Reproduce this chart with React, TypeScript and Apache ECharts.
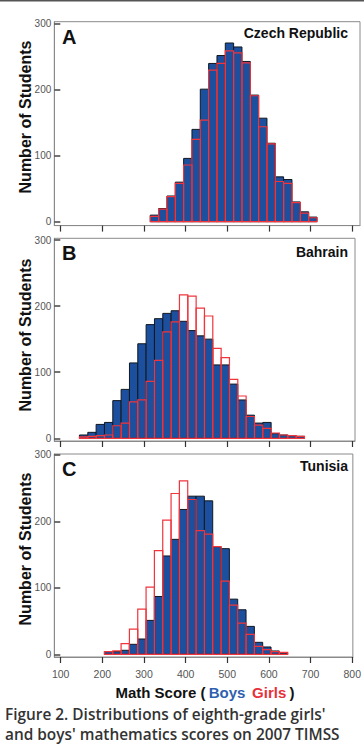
import React, { useEffect, useRef } from "react";
import * as echarts from "echarts";

// ---- data ----
const BIN_WIDTH = 20;
const xTicks = [100, 200, 300, 400, 500, 600, 700, 800];
const yTicks = [0, 100, 200, 300];

const czechBinStart = 315;
const czechBoys = [10, 20, 39, 60, 96, 140, 201, 240, 252, 271, 265, 243, 192, 157, 119, 68, 64, 30, 15, 7];
const czechGirls = [8, 19, 38, 58, 86, 125, 154, 230, 240, 259, 256, 241, 191, 144, 118, 61, 58, 29, 13, 6];

const bahrainBinStart = 145;
const bahrainBoys = [5, 9, 21, 24, 57, 74, 114, 143, 172, 181, 189, 193, 177, 163, 155, 150, 111, 111, 82, 58, 35, 23, 24, 7, 5, 4, 3];
const bahrainGirls = [2, 3, 4, 5, 19, 23, 55, 58, 86, 118, 161, 176, 217, 215, 197, 185, 136, 122, 89, 64, 33, 20, 15, 8, 5, 4, 3];

const tunisiaBinStart = 205;
const tunisiaBoys = [4, 4, 6, 15, 23, 51, 87, 148, 173, 218, 238, 238, 231, 162, 159, 83, 67, 42, 18, 11, 5, 2];
const tunisiaGirls = [4, 5, 16, 38, 68, 101, 156, 202, 242, 261, 233, 186, 181, 162, 110, 74, 47, 30, 12, 7, 4, 3];

const panelLetters = ["A", "B", "C"];
const countries = ["Czech Republic", "Bahrain", "Tunisia"];
const yAxisTitle = "Number of Students";
const captionLines = [
  "Figure 2. Distributions of eighth-grade girls'",
  "and boys' mathematics scores on 2007 TIMSS",
];

const BOYS_FILL = "#1c4f9e";
const BOYS_STROKE = "#101820";
const GIRLS_STROKE = "#f0353d";

function toBins(start: number, vals: number[]) {
  return vals.map((v, i) => [start + i * BIN_WIDTH, start + (i + 1) * BIN_WIDTH, v]);
}

export default function App() {
  const ref = useRef<HTMLDivElement>(null);
  useEffect(() => {
    if (!ref.current) return;
    const chart = echarts.init(ref.current, null, { renderer: "svg" });

    const panels = [
      { start: czechBinStart, boys: czechBoys, girls: czechGirls, top: 21.7, bottom: 225.6, right: 360, ymin: -5.9, ymax: 303.3 },
      { start: bahrainBinStart, boys: bahrainBoys, girls: bahrainGirls, top: 238.3, bottom: 441, right: 355, ymin: -4.1, ymax: 302.6 },
      { start: tunisiaBinStart, boys: tunisiaBoys, girls: tunisiaGirls, top: 454, bottom: 657, right: 353, ymin: -4.1, ymax: 301.5 },
    ];
    const LEFT = 54.3;
    const pxPerUnit = 0.4167;
    const xmin = 100 - (60.7 - LEFT) / pxPerUnit;

    const grids: any[] = [];
    const xAxes: any[] = [];
    const yAxes: any[] = [];
    const series: any[] = [];
    const graphics: any[] = [];

    const makeRender = (fill: string, stroke: string, lw: number) => (params: any, api: any) => {
      const x0 = api.value(0);
      const x1 = api.value(1);
      const y = api.value(2);
      const p0 = api.coord([x0, y]);
      const p1 = api.coord([x1, 0]);
      return {
        type: "rect",
        shape: { x: p0[0], y: p0[1], width: p1[0] - p0[0], height: p1[1] - p0[1] },
        style: { fill, stroke, lineWidth: lw },
      };
    };

    panels.forEach((p, i) => {
      grids.push({
        left: LEFT,
        top: p.top,
        width: p.right - LEFT,
        height: p.bottom - p.top,
        show: true,
        borderColor: "#8a8a8a",
        borderWidth: 1,
        backgroundColor: "transparent",
      });
      const xmax = 100 + (p.right - 60.7) / pxPerUnit;
      xAxes.push({
        type: "value",
        gridIndex: i,
        min: xmin,
        max: xmax,
        axisLine: { show: true, onZero: false, lineStyle: { color: "#8a8a8a" } },
        axisTick: { show: true, inside: false, length: 6, customValues: xTicks, lineStyle: { color: "#333", width: 1.2 } },
        axisLabel: {
          show: i === 2,
          customValues: xTicks,
          fontSize: 10.5,
          color: "#555",
          margin: 11,
          fontFamily: "Liberation Sans Narrow, Liberation Sans, Arial",
        },
        splitLine: { show: false },
      });
      yAxes.push({
        type: "value",
        gridIndex: i,
        min: p.ymin,
        max: p.ymax,
        axisLine: { show: true, lineStyle: { color: "#8a8a8a" } },
        axisTick: { show: true, inside: true, length: 6, customValues: yTicks, lineStyle: { color: "#444", width: 1.5 } },
        axisLabel: {
          customValues: yTicks,
          fontSize: 10,
          color: "#555",
          margin: 3,
          fontFamily: "Liberation Sans Narrow, Liberation Sans, Arial",
        },
        splitLine: { show: false },
      });
      series.push({
        type: "custom",
        xAxisIndex: i,
        yAxisIndex: i,
        renderItem: makeRender(BOYS_FILL, BOYS_STROKE, 1),
        encode: { x: [0, 1], y: 2 },
        data: toBins(p.start, p.boys),
        z: 2,
      });
      series.push({
        type: "custom",
        xAxisIndex: i,
        yAxisIndex: i,
        renderItem: makeRender("none", GIRLS_STROKE, 1.2),
        encode: { x: [0, 1], y: 2 },
        data: toBins(p.start, p.girls),
        z: 3,
      });
    });

    const letterY = [36.7, 253.3, 469];
    const countryY = [33.3, 251.7, 465.7];
    const ytitleY = [117, 335, 549];
    panels.forEach((p, i) => {
      graphics.push({
        type: "text",
        x: 62,
        y: letterY[i],
        style: {
          text: panelLetters[i],
          fontSize: 20,
          fontWeight: "bold",
          fontFamily: "Liberation Sans, Arial",
          fill: "#111",
          textAlign: "left",
          textVerticalAlign: "middle",
        },
        z: 10,
      });
      graphics.push({
        type: "text",
        x: 348,
        y: countryY[i],
        style: {
          text: countries[i],
          fontSize: 14,
          fontWeight: "bold",
          fontFamily: "Liberation Sans, Arial",
          fill: "#111",
          textAlign: "right",
          textVerticalAlign: "middle",
        },
        z: 10,
      });
      graphics.push({
        type: "text",
        x: 25.5,
        y: ytitleY[i],
        rotation: Math.PI / 2,
        style: {
          text: yAxisTitle,
          fontSize: 16,
          fontWeight: "bold",
          fontFamily: "Liberation Sans, Arial",
          fill: "#111",
          textAlign: "center",
          textVerticalAlign: "middle",
        },
        z: 10,
      });
    });

    graphics.push({
      type: "text",
      x: 205,
      y: 692,
      style: {
        text: "{k|Math Score (} {b|Boys}  {g|Girls} {k|)}",
        textAlign: "center",
        textVerticalAlign: "middle",
        rich: {
          k: { fontSize: 15, fontWeight: "bold", fontFamily: "Liberation Sans, Arial", fill: "#111" },
          b: { fontSize: 15, fontWeight: "bold", fontFamily: "Liberation Sans, Arial", fill: "#2f5fb0" },
          g: { fontSize: 15, fontWeight: "bold", fontFamily: "Liberation Sans, Arial", fill: "#e8303a" },
        },
      },
    });
    captionLines.forEach((t, i) => {
      graphics.push({
        type: "text",
        x: 5,
        y: 714 + i * 20,
        style: {
          text: t,
          fontSize: 15.4,
          fontWeight: 600,
          fontFamily: "Open Sans, Noto Sans, sans-serif",
          fill: "#333",
          textAlign: "left",
          textVerticalAlign: "middle",
        },
      });
    });
    graphics.push({ type: "rect", shape: { x: 0, y: 0, width: 364, height: 1.6 }, style: { fill: "#555" } });

    chart.setOption({
      animation: false,
      backgroundColor: "#fff",
      grid: grids,
      xAxis: xAxes,
      yAxis: yAxes,
      series,
      graphic: graphics,
    });
    return () => chart.dispose();
  }, []);

  return (
    <div
      ref={ref}
      style={{ position: "fixed", left: 0, top: 0, width: 364, height: 751 }}
    />
  );
}
